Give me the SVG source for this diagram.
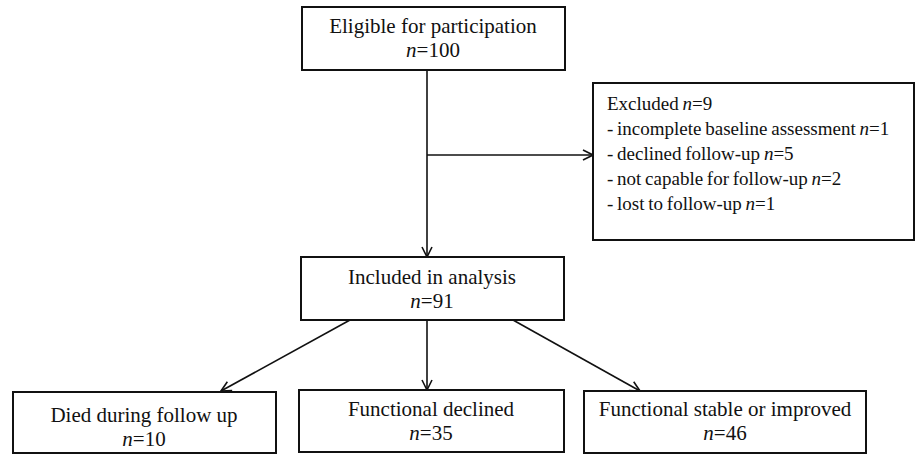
<svg xmlns="http://www.w3.org/2000/svg" width="917" height="454" viewBox="0 0 917 454">
<defs>
<style>
.box{fill:#fff;stroke:#111;stroke-width:2}
.t{font-family:"Liberation Serif","Times New Roman",serif;font-size:21px;fill:#111;text-anchor:middle}
.ex{font-family:"Liberation Serif","Times New Roman",serif;font-size:19px;fill:#111;word-spacing:-1px}
.it{font-style:italic}
.ln{fill:none;stroke:#111;stroke-width:1.6}
</style>
<marker id="arr" viewBox="0 0 12 12" refX="11" refY="6" markerWidth="12" markerHeight="12" markerUnits="userSpaceOnUse" orient="auto">
<path d="M1,1 L11,6 L1,11" fill="none" stroke="#111" stroke-width="1.6"/>
</marker>
</defs>
<rect width="917" height="454" fill="#fff"/>
<g id="connectors">
<line class="ln" x1="427" y1="70" x2="427" y2="257" marker-end="url(#arr)"/>
<line class="ln" x1="427" y1="155" x2="593" y2="155" marker-end="url(#arr)"/>
<line class="ln" x1="350" y1="320" x2="221" y2="391" marker-end="url(#arr)"/>
<line class="ln" x1="427" y1="320" x2="427" y2="390" marker-end="url(#arr)"/>
<line class="ln" x1="513" y1="320" x2="640" y2="391" marker-end="url(#arr)"/>
</g>
<g id="eligible">
<rect class="box" x="302" y="7" width="263" height="63"/>
<text class="t" x="433" y="33">Eligible for participation</text>
<text class="t" x="433" y="57"><tspan class="it">n</tspan>=100</text>
</g>
<g id="excluded">
<rect class="box" x="593" y="83" width="321" height="157"/>
<text class="ex" x="607" y="110">Excluded <tspan class="it">n</tspan>=9</text>
<text class="ex" x="607" y="135">- incomplete baseline assessment <tspan class="it">n</tspan>=1</text>
<text class="ex" x="607" y="160">- declined follow-up <tspan class="it">n</tspan>=5</text>
<text class="ex" x="607" y="185">- not capable for follow-up <tspan class="it">n</tspan>=2</text>
<text class="ex" x="607" y="210">- lost to follow-up <tspan class="it">n</tspan>=1</text>
</g>
<g id="included">
<rect class="box" x="301" y="257" width="263" height="63"/>
<text class="t" x="432" y="284">Included in analysis</text>
<text class="t" x="432" y="308"><tspan class="it">n</tspan>=91</text>
</g>
<g id="died">
<rect class="box" x="13" y="392" width="263" height="61"/>
<text class="t" x="144" y="422">Died during follow up</text>
<text class="t" x="144" y="446"><tspan class="it">n</tspan>=10</text>
</g>
<g id="declined">
<rect class="box" x="299" y="390" width="265" height="62"/>
<text class="t" x="431" y="416">Functional declined</text>
<text class="t" x="431" y="440"><tspan class="it">n</tspan>=35</text>
</g>
<g id="stable">
<rect class="box" x="584" y="391" width="282" height="62"/>
<text class="t" x="725" y="416">Functional stable or improved</text>
<text class="t" x="725" y="440"><tspan class="it">n</tspan>=46</text>
</g>
</svg>
